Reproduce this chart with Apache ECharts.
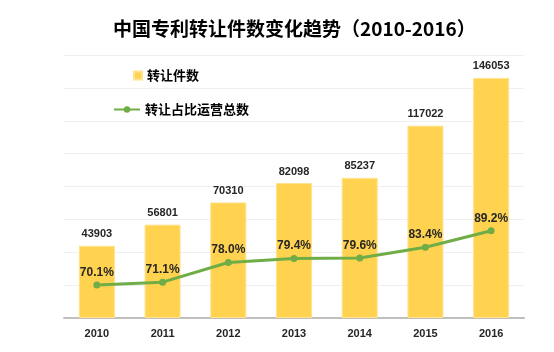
<!DOCTYPE html>
<html>
<head>
<meta charset="utf-8">
<script src="https://cdn.jsdelivr.net/npm/echarts@6/dist/echarts.min.js"></script>
<style>
  html, body { margin: 0; padding: 0; background: #fff; }
  #main { width: 554px; height: 352px; }
</style>
</head>
<body>
<div id="main"></div>
<script>
var years = ['2010', '2011', '2012', '2013', '2014', '2015', '2016'];
var transfers = [43903, 56801, 70310, 82098, 85237, 117022, 146053];
var ratios = [70.1, 71.1, 78.0, 79.4, 79.6, 83.4, 89.2];

var chartDom = document.getElementById('main');
var myChart = echarts.init(chartDom);
var font = 'Liberation Sans, "Noto Sans CJK SC", sans-serif';

var option = {
  backgroundColor: '#ffffff',
  animation: false,
  title: {
    text: '中国专利转让件数变化趋势（2010-2016）',
    left: 108,
    top: 14,
    textStyle: {
      color: '#000000',
      fontSize: 19,
      fontWeight: 'bold',
      fontFamily: '"Noto Sans CJK SC", sans-serif'
    }
  },
  legend: [
    {
      data: ['转让件数'],
      left: 133,
      top: 69,
      padding: 0,
      icon: 'rect',
      itemWidth: 8,
      itemHeight: 8,
      textStyle: { color: '#000', fontSize: 13, fontWeight: 'bold', fontFamily: '"Noto Sans CJK SC", sans-serif' }
    },
    {
      data: ['转让占比运营总数'],
      left: 113,
      top: 103,
      padding: 0,
      itemWidth: 26,
      itemHeight: 8,
      textStyle: { color: '#000', fontSize: 13, fontWeight: 'bold', fontFamily: '"Noto Sans CJK SC", sans-serif' }
    }
  ],
  grid: {
    left: 64,
    right: 30,
    top: 55,
    bottom: 34
  },
  xAxis: {
    type: 'category',
    data: years,
    axisLine: { lineStyle: { color: '#BFBFBF', width: 2 } },
    axisTick: { show: false },
    axisLabel: {
      color: '#262626',
      fontSize: 11,
      fontWeight: 'bold',
      fontFamily: font,
      margin: 10
    }
  },
  yAxis: [
    {
      type: 'value',
      min: 0,
      max: 160000,
      interval: 20000,
      axisLabel: { show: false },
      axisLine: { show: false },
      axisTick: { show: false },
      splitLine: { lineStyle: { color: '#EFEFEF', width: 1 } }
    },
    {
      type: 'value',
      min: 58.5,
      max: 151,
      show: false,
      splitLine: { show: false }
    }
  ],
  series: [
    {
      name: '转让件数',
      type: 'bar',
      data: transfers,
      barWidth: 36,
      itemStyle: {
        color: '#FFD24F',
        borderColor: '#FFE28E',
        borderWidth: 1
      },
      label: {
        show: true,
        position: 'top',
        distance: 6,
        color: '#262626',
        fontSize: 11,
        fontWeight: 'bold',
        fontFamily: font
      }
    },
    {
      name: '转让占比运营总数',
      type: 'line',
      yAxisIndex: 1,
      data: ratios,
      symbol: 'circle',
      symbolSize: 7,
      lineStyle: { color: '#70AD47', width: 3 },
      itemStyle: { color: '#70AD47' },
      label: {
        show: true,
        position: 'top',
        distance: 3,
        color: '#262626',
        fontSize: 12,
        fontWeight: 'bold',
        fontFamily: font,
        formatter: function (p) {
          return p.value.toFixed(1) + '%';
        }
      }
    }
  ]
};
myChart.setOption(option);
</script>
</body>
</html>
